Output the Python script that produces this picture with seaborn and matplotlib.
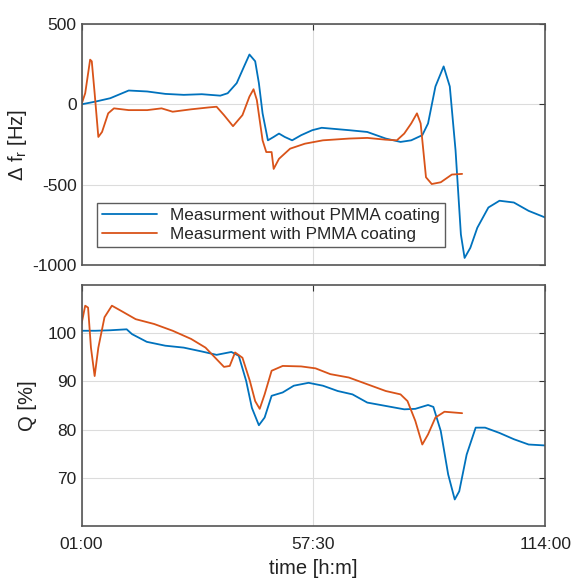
import numpy as np
import pandas as pd
import seaborn as sns
import matplotlib
matplotlib.use("Agg")
import matplotlib.pyplot as plt

# time axis in hours
t_df_without = [1, 4.4, 8, 12.5, 17, 21.4, 25.9, 30.3, 34.8, 36.6, 38.8, 40.6, 41.9, 43.3, 44.2,
                45.1, 46.4, 47.8, 49.1, 50.5, 52.3, 54.5, 57.2, 59.5, 61.7, 66.2, 70.6, 75.1,
                78.7, 81.3, 84.0, 85.4, 87.2, 89.2, 90.7, 92.1, 93.4, 94.3, 95.7, 97.4, 100.1,
                102.8, 106.3, 109.9, 114]
df_without = [0, 17, 38, 86, 80, 65, 59, 63, 54, 69, 132, 236, 310, 268, 132,
              -56, -224, -203, -182, -203, -224, -192, -161, -146, -151, -161, -172, -213,
              -234, -224, -192, -119, 111, 236, 111, -287, -810, -956, -893, -768, -642,
              -600, -611, -663, -705]

t_df_with = [1, 1.9, 3.1, 3.5, 4.2, 5.1, 6.0, 7.5, 8.9, 12.5, 17, 20.5, 23.2, 27.7, 32.1, 33.9,
             35.7, 37.9, 40.2, 41.9, 42.9, 43.7, 45.1, 46.0, 47.3, 47.8, 49.1, 51.8, 55.4,
             59.8, 66.2, 70.6, 75.1, 77.8, 79.6, 81.3, 82.7, 83.6, 84.9, 86.3, 88.5, 91.2, 93.7]
df_with = [0, 69, 278, 268, 69, -203, -172, -56, -25, -36, -36, -25, -46, -31, -19, -15,
           -67, -136, -67, 48, 94, 27, -224, -297, -297, -402, -339, -276, -245,
           -224, -213, -209, -220, -224, -182, -119, -56, -119, -454, -496, -485, -437, -433]

t_q_without = [1, 4.4, 8, 12, 13.3, 16.9, 21.4, 25.9, 30.3, 33.9, 35.7, 37.5, 39.3, 41.1, 42.5,
               44.2, 45.6, 47.3, 50, 52.7, 56.3, 59.8, 63.4, 67.0, 70.6, 75.1, 79.6, 82.3,
               85.4, 86.7, 88.5, 90.3, 91.9, 93, 94.8, 97.0, 99.3, 102.8, 106.3, 109.9, 114]
q_without = [100.5, 100.5, 100.6, 100.8, 99.8, 98.2, 97.4, 97.0, 96.2, 95.5, 95.8, 96.1, 95.3,
             90.1, 84.5, 80.9, 82.5, 87.0, 87.7, 89.1, 89.7, 89.1, 88.0, 87.3, 85.6, 84.9,
             84.2, 84.3, 85.1, 84.7, 79.7, 70.7, 65.5, 67.2, 74.8, 80.4, 80.4, 79.3, 78.0,
             76.9, 76.7]

t_q_with = [1, 1.9, 2.6, 3.3, 4.2, 5.1, 6.6, 8.4, 10.7, 14.2, 18.7, 23.2, 27.7, 31.2, 33.9,
            35.7, 37.1, 38.4, 40.2, 42.0, 43.3, 44.4, 45.6, 47.3, 50, 54.5, 58, 61.6, 66.1,
            70.6, 75.1, 78.7, 80.4, 82.3, 84.0, 85.4, 87.2, 89.4, 93.7]
q_with = [101.9, 105.7, 105.3, 97.0, 91.1, 97.0, 103.3, 105.7, 104.6, 102.9, 101.9, 100.5,
          98.8, 97.0, 94.6, 93.0, 93.2, 96.0, 94.9, 90.1, 85.9, 84.3, 87.3, 92.2, 93.2,
          93.1, 92.7, 91.5, 90.8, 89.4, 88.0, 87.3, 85.9, 81.8, 76.9, 79.0, 82.5, 83.7, 83.4]

x_ticks = [1, 57.5, 114]
x_tick_labels = ["01:00", "57:30", "114:00"]
labels = ["Measurment without PMMA coating", "Measurment with PMMA coating"]

blue = "#0072BD"
orange = "#D95319"

sns.set_style("white")
plt.rcParams["font.family"] = ["Liberation Sans", "DejaVu Sans"]
plt.rcParams["axes.unicode_minus"] = False
plt.rcParams["mathtext.fontset"] = "custom"
plt.rcParams["mathtext.rm"] = "Liberation Sans"
plt.rcParams["mathtext.it"] = "Liberation Sans"

fig = plt.figure(figsize=(5.76, 5.78), dpi=100)
ax1 = fig.add_axes([0.1415, 0.5415, 0.8055, 0.417])
ax2 = fig.add_axes([0.1415, 0.090, 0.8055, 0.417])

sns.lineplot(x=t_df_without, y=df_without, ax=ax1, color=blue, lw=1.3, label=labels[0])
sns.lineplot(x=t_df_with, y=df_with, ax=ax1, color=orange, lw=1.3, label=labels[1])
sns.lineplot(x=t_q_without, y=q_without, ax=ax2, color=blue, lw=1.3)
sns.lineplot(x=t_q_with, y=q_with, ax=ax2, color=orange, lw=1.3)

for ax in (ax1, ax2):
    ax.set_xlim(1, 114)
    ax.set_xticks(x_ticks)
    ax.grid(True, color="#dcdcdc", lw=0.8)
    ax.tick_params(direction="in", length=4, color="#333333", labelsize=12.5,
                   top=True, right=True, labelcolor="#222222")
    for s in ax.spines.values():
        s.set_color("#555555")
        s.set_linewidth(1.2)

ax1.set_ylim(-1000, 500)
ax1.set_yticks([-1000, -500, 0, 500])
ax1.set_xticklabels([])
ax1.set_ylabel("Δ f$_r$ [Hz]", fontsize=14.5, color="#222222", labelpad=2)

ax2.set_ylim(60, 110)
ax2.set_yticks([70, 80, 90, 100])
ax2.set_xticklabels(x_tick_labels)
ax2.tick_params(axis="x", pad=8)
ax2.set_ylabel("Q [%]", fontsize=14.5, color="#222222", labelpad=8)
ax2.set_xlabel("time [h:m]", fontsize=14.5, color="#222222", labelpad=5)

leg = ax1.legend(loc="lower left", bbox_to_anchor=(0.033, 0.075), fontsize=12.3,
                 frameon=True, fancybox=False, edgecolor="#333333", borderpad=0.3,
                 handlelength=3.2, labelspacing=0.2, borderaxespad=0)
leg.get_frame().set_linewidth(1.0)

fig.savefig("out.png", dpi=100)
